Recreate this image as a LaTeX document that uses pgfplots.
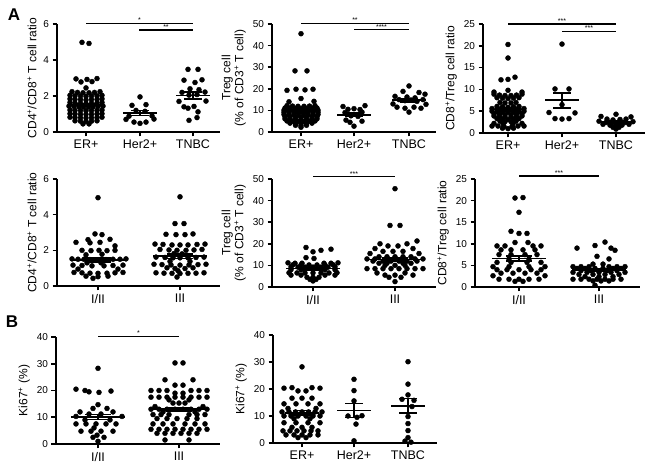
\documentclass[border=0pt]{standalone}
\usepackage{fontspec}
\setmainfont{Liberation Sans}
\usepackage{pgfplots}
\pgfplotsset{compat=1.18}

\pgfplotsset{
  prism/.style={
    scale only axis, anchor=south west, clip=false,
    axis lines=left, axis line style={-, line width=2.2pt},
    xmin=0, ymin=0,
    tick align=outside, major tick length=4.5pt,
    tick style={line width=1.6pt, black},
    yticklabel style={font=\fontsize{10}{10}\selectfont},
    xticklabel style={font=\fontsize{12.5}{12.5}\selectfont},
    ylabel style={font=\fontsize{12}{13}\selectfont, align=center},
    /pgf/number format/assume math mode=true,
  },
  dot/.style={only marks, mark=*, mark size=2.5pt, black},
  ml/.style={black, line width=1.6pt, mark=none},
  sl/.style={black, line width=1.2pt, mark=none},
}
\tikzset{st/.style={anchor=south, inner sep=0.6pt, font=\fontsize{7}{7}\selectfont}}
% one group of dots: centre, coordinates (x as offset from centre)
\newcommand{\grp}[2]{\addplot[dot, x filter/.expression={x+#1}] coordinates {#2};}
% mean and SEM: centre, mean, low, high, half width of mean line, half width of whiskers
\newcommand{\msem}[6]{%
  \addplot[ml, x filter/.expression={x+#1}] coordinates {(-#5,#2)(#5,#2)};
  \addplot[ml, x filter/.expression={x+#1}] coordinates {(0,#3)(0,#4)};
  \addplot[ml, x filter/.expression={x+#1}] coordinates {(-#6,#3)(#6,#3)};
  \addplot[ml, x filter/.expression={x+#1}] coordinates {(-#6,#4)(#6,#4)};}
% significance bar: x1, x2, y, stars
\newcommand{\sig}[4]{%
  \addplot[sl] coordinates {(#1,#3)(#2,#3)};
  \node[st] at (axis cs:{(#1+#2)/2},#3) {#4};}

\begin{document}
\begin{tikzpicture}
\useasboundingbox (0pt,0pt) rectangle (649pt,466pt);
\node[font=\bfseries\fontsize{17}{17}\selectfont] at (14pt,451pt) {A};
\node[font=\bfseries\fontsize{17}{17}\selectfont] at (12pt,144pt) {B};

% ---------- panel 1
\begin{axis}[prism, at={(57pt,334pt)}, width=163pt, height=108pt, xmax=163, ymax=6,
  ytick={0,2,4,6}, xtick={29,83,136}, xticklabels={ER+,Her2+,TNBC},
  ylabel={CD4\textsuperscript{+}/CD8\textsuperscript{+} T cell ratio}]
\grp{29}{(-4,4.98)(3,4.92)(-10,2.95)(1,2.92)(11,2.97)(-5,2.78)(6,2.8)(0,2.45)
 (-14,2.24)(-8.5,2.2)(-3,2.18)(3,2.18)(8.5,2.2)(14,2.24)
 (-16,2.04)(-11,2.01)(-5.5,2.0)(0,1.98)(5.5,2.0)(11,2.01)(16,2.04)
 (-16,1.84)(-11,1.81)(-5.5,1.8)(0,1.78)(5.5,1.8)(11,1.81)(16,1.84)
 (-16,1.64)(-11,1.61)(-5.5,1.6)(0,1.58)(5.5,1.6)(11,1.61)(16,1.64)
 (-17,1.44)(-12,1.42)(-7,1.4)(-2.5,1.39)(2.5,1.39)(7,1.4)(12,1.42)(17,1.44)
 (-16,1.22)(-11,1.2)(-5.5,1.19)(0,1.18)(5.5,1.19)(11,1.2)(16,1.22)
 (-16,1.02)(-11,1.0)(-5.5,0.99)(0,0.98)(5.5,0.99)(11,1.0)(16,1.02)
 (-16,0.82)(-11,0.8)(-5.5,0.79)(0,0.78)(5.5,0.79)(11,0.8)(16,0.82)
 (-11,0.62)(-5.5,0.6)(0,0.59)(5.5,0.6)(11,0.62)(-3,0.45)(3,0.45)}
\grp{83}{(0,1.95)(-8,1.48)(6,1.52)(-4,1.2)(5,1.15)(-11,0.88)(12,0.9)(-14,0.7)(-6,0.55)(0,0.48)(6,0.55)(14,0.72)}
\grp{136}{(-5,3.48)(5,3.48)(-9,2.88)(9,2.9)(2,2.75)(-3,2.4)(6,2.35)(-11,2.2)(12,2.22)(-4,2.05)(4,2.08)
 (-14,1.7)(13,1.72)(-9,1.4)(1,1.42)(-5,1.32)(5,1.12)(4,0.8)(-4,0.65)}
\msem{29}{1.5}{1.43}{1.57}{17}{9}
\msem{83}{1.05}{0.92}{1.19}{17}{9}
\msem{136}{2.02}{1.83}{2.21}{17}{9}
\sig{29}{136}{6.03}{*}
\sig{82}{136}{5.67}{**}
\end{axis}

% ---------- panel 2
\begin{axis}[prism, at={(272pt,334pt)}, width=164pt, height=108pt, xmax=164, ymax=50,
  ytick={0,10,...,50}, xtick={29,82,137}, xticklabels={ER+,Her2+,TNBC},
  ylabel={Treg cell\\(\% of CD3\textsuperscript{+} T cell)}]
\grp{29}{(0,45.5)(-6,28.3)(6,28.3)(-14,19.3)(-5,19.8)(4,19.5)(12,19.8)(0,15.5)(-12,14)(13,14.2)
 (-14,12.2)(-8.5,12)(-3,11.9)(3,11.9)(8.5,12)(14,12.2)
 (-16,11.1)(-11,11)(-5.5,10.9)(0,10.8)(5.5,10.9)(11,11)(16,11.1)
 (-17,10.1)(-12,10)(-7,9.9)(-2.5,9.8)(2.5,9.8)(7,9.9)(12,10)(17,10.1)
 (-17,9.1)(-12,9)(-7,8.9)(-2.5,8.8)(2.5,8.8)(7,8.9)(12,9)(17,9.1)
 (-17,8.1)(-12,8)(-7,7.9)(-2.5,7.8)(2.5,7.8)(7,7.9)(12,8)(17,8.1)
 (-16,7.1)(-11,7)(-5.5,6.9)(0,6.8)(5.5,6.9)(11,7)(16,7.1)
 (-16,6.1)(-11,6)(-5.5,5.9)(0,5.8)(5.5,5.9)(11,6)(16,6.1)
 (-14,5.1)(-8.5,5)(-3,4.9)(3,4.9)(8.5,5)(14,5.1)
 (-11,4.1)(-5.5,4)(0,3.9)(5.5,4)(11,4.1)(-5.5,3.1)(0,3)(5.5,3.1)(0,2.2)}
\grp{82}{(-11,11.8)(11,12.2)(-6,10.5)(0,10.8)(6,10.4)(-9,9)(8,9.2)(-3,7.5)(4,7.2)(-8,5.5)(8,5)(-4,4.5)(0,2.7)}
\grp{137}{(0,21.3)(-6,18.8)(10,18.3)(16,17.5)(-14,16.5)(-2,16.2)(6,15.8)(-10,15)(14,15)(-4,14.5)(2,14.8)
 (8,14.2)(-16,13)(17,12.8)(-12,11.5)(-4,11)(5,11.5)(12,11)(0,9.2)}
\msem{29}{9.6}{8.9}{10.3}{17}{9}
\msem{82}{8.0}{7.2}{8.8}{17}{9}
\msem{137}{14.7}{14.0}{15.4}{17}{9}
\sig{29}{137}{50.3}{**}
\sig{82}{137}{47.3}{****}
\end{axis}

% ---------- panel 3
\begin{axis}[prism, at={(483pt,333pt)}, width=162pt, height=109pt, xmax=162, ymax=25,
  ytick={0,5,...,25}, xtick={25,79,133}, xticklabels={ER+,Her2+,TNBC},
  ylabel={CD8\textsuperscript{+}/Treg cell ratio}]
\grp{25}{(0,20.3)(0,17.2)(7,12.8)(-7,12.2)(0,12.3)(0,9.8)(-14,9.4)(14,9.4)
 (-14,8.9)(-8.5,8.7)(-3,8.6)(3,8.6)(8.5,8.7)(14,8.9)
 (-11,8.1)(-5.5,8)(0,7.9)(5.5,8)(11,8.1)
 (-8,7)(-3,6.9)(3,6.9)(8,7)
 (-11,6.1)(-5.5,6)(0,5.9)(5.5,6)(11,6.1)
 (-16,5.6)(-11,5.5)(-5.5,5.4)(0,5.35)(5.5,5.4)(11,5.5)(16,5.6)
 (-16,5.0)(-11,4.9)(-5.5,4.8)(0,4.75)(5.5,4.8)(11,4.9)(16,5.0)
 (-14,4.4)(-8.5,4.3)(-3,4.2)(3,4.2)(8.5,4.3)(14,4.4)
 (-14,3.9)(-8.5,3.8)(-3,3.7)(3,3.7)(8.5,3.8)(14,3.9)
 (-11,3.3)(-5.5,3.2)(0,3.1)(5.5,3.2)(11,3.3)
 (-8,2.7)(-3,2.6)(3,2.6)(8,2.7)
 (-14,2.2)(-5,2.1)(5,2.1)(14,2.2)
 (-16,1.6)(-10,1.6)(-4,1.5)(4,1.5)(10,1.6)(16,1.6)
 (-5.5,1.1)(0,1.0)(5.5,1.1)}
\grp{79}{(0,20.4)(-7,10.1)(7,10.1)(0,6.5)(-13,4.7)(13,4.6)(-7,3.3)(0,3.2)(7,3.3)}
\grp{133}{(0,4.3)(-15,3.8)(15,3.7)(-9,3.2)(-3,3.0)(4,3.1)(10,3.2)(-17,2.7)(17,2.6)(-10,2.4)(-4,2.3)
 (3,2.3)(9,2.4)(-13,2.0)(13,2.0)(-6,1.8)(0,1.7)(6,1.8)(-3,1.3)(3,1.3)(0,0.9)}
\msem{25}{5.4}{5.0}{5.8}{17}{9}
\msem{79}{7.5}{5.7}{9.2}{17}{9}
\msem{133}{2.5}{2.3}{2.7}{17}{9}
\sig{25}{133}{25}{***}
\sig{79}{133}{23.3}{***}
\end{axis}

% ---------- panel 4
\begin{axis}[prism, at={(57pt,180pt)}, width=163pt, height=107pt, xmax=163, ymax=6,
  ytick={0,2,4,6}, xtick={41,123}, xticklabels={I/II,III},
  ylabel={CD4\textsuperscript{+}/CD8\textsuperscript{+} T cell ratio}]
\grp{41}{(0,4.95)(-3,2.92)(4,2.88)(-10,2.6)(12,2.62)(-22,2.45)(-8,2.42)(2,2.45)(17,2.25)
 (-16,2.0)(-7,1.98)(1,2.0)(9,1.98)(17,2.0)(-12,1.75)(4,1.78)
 (-26,1.52)(-20,1.5)(-14,1.5)(-8,1.48)(0,1.47)(8,1.48)(15,1.5)(22,1.5)(28,1.52)
 (-11,1.3)(3,1.3)
 (-25,1.17)(-16,1.15)(-6,1.13)(6,1.13)(15,1.15)(25,1.17)
 (-20,0.95)(20,0.95)
 (-24,0.76)(-16,0.74)(-8,0.72)(0,0.71)(9,0.72)(17,0.74)(25,0.76)
 (-12,0.55)(0,0.52)(10,0.55)(-5,0.43)}
\grp{123}{(0,5.0)(-5,3.5)(4,3.5)(-14,2.9)(-4,2.88)(5,2.88)(13,2.92)
 (-25,2.35)(-17,2.33)(-8,2.3)(0,2.3)(8,2.3)(17,2.33)(25,2.35)
 (-20,2.05)(-11,2.02)(-3,2.0)(6,2.0)(14,2.02)(22,2.05)
 (-6,1.82)(2,1.8)
 (-24,1.62)(-15,1.6)(-7,1.58)(0,1.58)(8,1.58)(16,1.6)(24,1.62)
 (-10,1.38)(10,1.38)
 (-26,1.22)(-18,1.2)(-9,1.18)(0,1.17)(9,1.18)(18,1.2)(26,1.22)
 (-13,1.02)(-5,0.98)(5,0.98)(13,1.02)(-2,0.86)
 (-24,0.74)(-16,0.72)(-8,0.71)(0,0.7)(8,0.71)(16,0.72)(24,0.74)(-3,0.5)}
\msem{41}{1.45}{1.33}{1.57}{27}{13}
\msem{123}{1.67}{1.55}{1.79}{27}{13}
\end{axis}

% ---------- panel 5
\begin{axis}[prism, at={(272pt,179pt)}, width=164pt, height=108pt, xmax=164, ymax=50,
  ytick={0,10,...,50}, xtick={41,123}, xticklabels={I/II,III},
  ylabel={Treg cell\\(\% of CD3\textsuperscript{+} T cell)}]
\grp{41}{(-7,18.3)(18,17.5)(8,17)(0,16.3)(-7,13.6)(1,13.2)
 (-25,11.2)(-18,11)(-11,11)(11,11)(18,11)(25,11.2)
 (-20,10.3)(-12,10.2)(-4,10.2)(4,10.2)(12,10.2)(20,10.3)
 (-22,9.3)(-15,9.2)(-8,9.2)(0,9.2)(8,9.2)(15,9.2)(22,9.3)
 (-22,8)(-12,8)(12,8)(22,8)
 (-24,6.6)(-16,6.5)(-8,6.5)(0,6.5)(8,6.5)(16,6.5)(24,6.6)
 (-22,5.5)(-12,5.5)(12,5.5)(22,5.5)
 (-6,4.5)(0,4.5)(6,4.5)(-3,3.5)(3,3.5)(0,2.8)}
\grp{123}{(0,45.5)(-5,28.5)(5,28.5)(22,21.3)(-15,20)(12,20)(-7,19)(3,19)(-20,17.8)(18,17.8)
 (-12,16.5)(-2,16.5)(8,16.5)(-25,15.5)(24,15.5)
 (-16,14)(-8,14)(0,14)(8,14)(16,14)
 (-28,13)(-20,13)(20,13)(28,13)
 (-22,12)(-12,12)(-4,12)(4,12)(12,12)(22,12)
 (-16,11)(-8,11)(8,11)(16,11)
 (-10,10)(0,10)(10,10)
 (-28,8.5)(-20,8.5)(-12,8.5)(-4,8.5)(4,8.5)(12,8.5)(20,8.5)(28,8.5)
 (-18,6.5)(10,6.5)(-10,5.5)(0,5.5)(18,5.5)(-6,4.5)(6,4.5)(0,2.5)}
\msem{41}{8.5}{7.9}{9.1}{27}{13}
\msem{123}{12.7}{11.9}{13.5}{27}{13}
\sig{41}{123}{51}{***}
\end{axis}

% ---------- panel 6
\begin{axis}[prism, at={(475pt,179pt)}, width=165pt, height=108pt, xmax=165, ymax=25,
  ytick={0,5,...,25}, xtick={44,124}, xticklabels={I/II,III},
  ylabel={CD8\textsuperscript{+}/Treg cell ratio}]
\grp{44}{(-4,20.6)(4,20.7)(0,17.3)(-8,12.9)(0,12.4)(8,12.4)(-4,10.3)(9,10.3)
 (-22,9.5)(-14,9.5)(14,9.5)(22,9.5)
 (-18,8.6)(-8,8.6)(4,8.6)(16,8.6)
 (-20,7.5)(-8,7.5)(6,7.5)(18,7.5)
 (-10,6.5)(10,6.5)
 (-22,5.7)(-8,5.7)(8,5.7)(22,5.7)
 (-26,4.7)(-10,4.7)(10,4.7)(26,4.7)
 (-22,4.0)(-12,4.0)(0,4.0)(12,4.0)(22,4.0)
 (-18,3.2)(-6,3.2)(6,3.2)(18,3.2)
 (-26,2.6)(26,2.6)
 (-20,1.8)(-10,1.8)(0,1.8)(10,1.8)(20,1.8)
 (-4,1.3)(4,1.3)}
\grp{124}{(6,10.4)(-4,9.6)(-22,9.0)(12,9.0)(16,8.5)(-2,7.1)(10,6.5)(-6,5.3)(4,5.3)
 (-26,4.7)(-18,4.7)(-10,4.7)(10,4.7)(18,4.7)(26,4.7)
 (-22,4.3)(-14,4.3)(-4,4.3)(4,4.3)(14,4.3)(22,4.3)
 (-18,3.8)(-8,3.8)(8,3.8)(18,3.8)
 (-26,3.4)(-12,3.4)(0,3.4)(12,3.4)(26,3.4)
 (-20,2.9)(-6,2.9)(6,2.9)(20,2.9)
 (-14,2.4)(0,2.4)(14,2.4)
 (-26,1.8)(-18,1.8)(-10,1.8)(-2,1.8)(6,1.8)(14,1.8)(22,1.8)
 (-6,1.4)(2,1.4)(10,1.4)(-4,0.4)}
\msem{44}{6.6}{6.0}{7.2}{27}{13}
\msem{124}{3.9}{3.6}{4.2}{27}{13}
\sig{44}{124}{25.7}{***}
\end{axis}

% ---------- panel 7
\begin{axis}[prism, at={(56pt,22pt)}, width=164pt, height=107pt, xmax=164, ymax=40,
  ytick={0,10,...,40}, xtick={42,123}, xticklabels={I/II,III},
  ylabel={Ki67\textsuperscript{+} (\%)}]
\grp{42}{(0,28.3)(-22,20.5)(-13,20)(-9,19.5)(1,19.3)(13,19.8)(0,14.7)(-5,13.3)(9,13.3)(-18,12)(15,12)
 (-9,11.2)(3,11.2)(-22,10.3)(24,10.3)(-13,9)(12,9)(-22,7.5)(-12,7.5)(-2,7.5)(8,7.5)(18,7.5)(-4,6)
 (-17,4.8)(-7,4.8)(3,4.8)(15,4.8)(-1,3.3)(-5,2.5)(6,2.5)(0,1.0)}
\grp{123}{(-4,30.3)(4,30.3)(-14,24)(14,24)(-4,22)(4,22)
 (-28,20)(-20,20)(-12,20)(12,20)(20,20)(28,20)(-4,19)(4,19)
 (-28,17.5)(-20,17.5)(-12,17.5)(-4,17.5)(4,17.5)(12,17.5)(20,17.5)(28,17.5)
 (-10,16.5)(10,16.5)(-6,15.3)(0,15.3)(6,15.3)(-24,14)(24,14)
 (-28,13)(-20,13)(-12,13)(-4,13)(4,13)(12,13)(20,13)(28,13)
 (-16,12)(16,12)
 (-26,11)(-18,11)(-10,11)(10,11)(18,11)(26,11)
 (-22,9.5)(-12,9.5)(-2,9.5)(8,9.5)(18,9.5)
 (-26,7.5)(-16,7.5)(-6,7.5)(6,7.5)(16,7.5)(26,7.5)
 (-28,5.5)(-20,5.5)(-12,5.5)(-4,5.5)(4,5.5)(12,5.5)(20,5.5)(28,5.5)
 (-22,4)(-14,4)(-6,4)(2,4)(10,4)(18,4)(-14,1.5)(10,1.5)}
\msem{42}{10.1}{9.2}{11.0}{27}{13}
\msem{123}{13.0}{12.3}{13.7}{27}{13}
\sig{42}{123}{40.2}{*}
\end{axis}

% ---------- panel 8
\begin{axis}[prism, at={(273pt,23pt)}, width=164pt, height=108pt, xmax=164, ymax=40,
  ytick={0,10,...,40}, xtick={29,81,135}, xticklabels={ER+,Her2+,TNBC},
  ylabel={Ki67\textsuperscript{+} (\%)}]
\grp{29}{(0,28.2)(-18,20.3)(-10,20.5)(10,20.5)(18,20.3)(-4,19.3)(4,19.3)(-10,16.6)(0,16.6)(10,16.6)
 (-18,14.5)(-6,14.5)(6,14.5)(18,14.5)(-14,12.8)(14,12.8)
 (-20,11.5)(-13,11.5)(-6.5,11.5)(0,11.5)(6.5,11.5)(13,11.5)(20,11.5)
 (-18,10)(-11,10)(-4,10)(4,10)(11,10)(18,10)
 (-8,9)(8,9)(-18,7.5)(-6,7.5)(6,7.5)(18,7.5)(-10,5.8)(0,5.8)(10,5.8)
 (-19,4.5)(-12,4.5)(-5,4.5)(2,4.5)(9,4.5)(16,4.5)
 (-16,3)(-8,3)(0,3)(8,3)(16,3)(-4,2)(4,2)}
\grp{81}{(0,23.6)(0,19.4)(0,15.6)(-6,10)(3,9.5)(8,10.1)(2,7)(0,0.8)}
\grp{135}{(0,30.1)(0,21.8)(0,17.8)(-6,16.2)(6,15.8)(4,13.5)(0,9.8)(0,7.2)(0,4.6)(0,2)(-3,0.7)(3,0.3)}
\msem{29}{11.2}{10.4}{12.0}{17}{9}
\msem{81}{12.0}{9.5}{14.7}{17}{9}
\msem{135}{13.7}{11.2}{16.5}{17}{9}
\end{axis}
\end{tikzpicture}
\end{document}
